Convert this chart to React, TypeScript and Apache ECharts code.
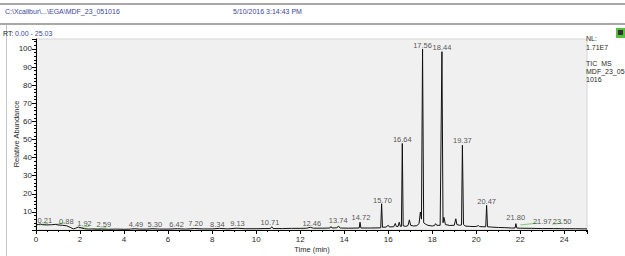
import React, { useEffect, useRef } from "react";
import * as echarts from "echarts";

// Chromatogram trace: [time (min), relative abundance (%)]
const trace: [number, number][] = [
  [0, 2.8], [0.1, 3.0], [0.21, 3.3], [0.3, 2.9], [0.5, 2.8], [0.7, 2.9], [0.88, 3.1], [1.0, 2.8],
  [1.2, 2.6], [1.4, 2.3], [1.55, 1.5], [1.7, 0.6], [1.8, 1.0], [1.92, 1.6], [2.05, 1.2], [2.2, 0.7],
  [2.4, 0.5], [2.59, 0.6], [2.8, 0.4], [3.0, 0.5], [3.3, 0.4], [3.6, 0.5], [4.0, 0.4], [4.3, 0.5],
  [4.49, 0.7], [4.7, 0.5], [5.0, 0.5], [5.3, 0.7], [5.6, 0.5], [6.0, 0.5], [6.42, 0.7], [6.8, 0.5],
  [7.2, 0.8], [7.6, 0.6], [8.0, 0.6], [8.34, 0.9], [8.7, 0.6], [9.13, 1.0], [9.5, 0.7], [10.0, 0.7],
  [10.4, 0.8], [10.65, 0.8], [10.71, 1.8], [10.77, 0.8], [11.2, 0.8], [11.6, 0.9], [12.0, 0.9],
  [12.3, 1.0], [12.46, 1.5], [12.6, 1.0], [13.0, 1.0], [13.35, 1.1], [13.4, 1.9], [13.45, 1.1],
  [13.65, 1.2], [13.74, 2.0], [13.82, 1.1], [14.2, 1.0], [14.68, 1.1], [14.72, 4.3], [14.76, 1.1],
  [15.2, 1.1], [15.66, 1.2], [15.7, 14.5], [15.74, 1.5], [15.9, 1.6], [16.0, 2.6], [16.05, 1.7],
  [16.25, 1.8], [16.32, 3.6], [16.37, 1.9], [16.45, 2.0], [16.5, 4.3], [16.55, 2.0], [16.6, 2.0],
  [16.64, 47.8], [16.68, 2.3], [16.8, 2.0], [16.9, 2.5], [16.96, 5.6], [17.02, 2.6], [17.15, 2.2],
  [17.3, 2.4], [17.4, 3.5], [17.46, 9.9], [17.51, 6.0], [17.56, 100], [17.61, 4.0], [17.7, 3.2],
  [17.8, 2.6], [17.9, 2.4], [18.0, 2.2], [18.1, 2.5], [18.15, 3.5], [18.2, 2.6], [18.36, 2.6],
  [18.44, 98.5], [18.49, 4.0], [18.53, 7.0], [18.6, 3.0], [18.8, 2.5], [19.0, 2.6], [19.07, 6.2],
  [19.12, 3.0], [19.25, 2.6], [19.33, 2.8], [19.37, 46.8], [19.42, 3.0], [19.5, 2.2], [19.7, 2.0],
  [19.9, 1.9], [20.0, 2.0], [20.1, 2.4], [20.15, 1.9], [20.3, 1.8], [20.43, 1.8], [20.47, 13.6],
  [20.51, 1.8], [20.7, 1.6], [21.0, 1.4], [21.3, 1.3], [21.6, 1.1], [21.76, 1.1], [21.8, 3.5],
  [21.84, 1.1], [22.0, 1.0], [22.5, 0.9], [23.0, 0.8], [23.5, 0.8], [24.0, 0.7], [24.5, 0.7],
  [25.03, 0.6],
];

// Peak labels: text, label anchor time, label anchor level
const peakLabels: string[] = [
  "0.21", "0.88", "1.92", "2.59", "4.49", "5.30", "6.42", "7.20", "8.34", "9.13", "10.71", "12.46",
  "13.74", "14.72", "15.70", "16.64", "17.56", "18.44", "19.37", "20.47", "21.80", "21.97", "23.50",
];
const labelTimes: number[] = [
  0.4, 1.38, 2.2, 3.08, 4.54, 5.4, 6.39, 7.25, 8.24, 9.15, 10.63, 12.53,
  13.73, 14.76, 15.74, 16.64, 17.56, 18.44, 19.37, 20.47, 21.79, 23.0, 23.9,
];
const labelLevels: number[] = [
  2.6, 2.2, 1.1, 0.2, 0.2, 0.2, 0.2, 0.7, 0.5, 1.1, 1.3, 0.7,
  2.6, 4.0, 13.3, 47.2, 99.2, 98.2, 46.5, 13.1, 4.0, 2.2, 1.7,
];

// Green baseline marks: [t0, v0, t1, v1]
const greenMarks: [number, number, number, number][] = [
  [0.15, 2.8, 0.55, 3.6],
  [0.85, 3.0, 1.3, 4.0],
  [1.95, 1.0, 2.45, 2.3],
  [2.6, 0.4, 3.2, 1.3],
  [5.25, 0.6, 5.35, 1.0],
  [13.65, 1.4, 13.8, 2.0],
  [22.0, 2.8, 22.8, 3.8],
  [23.45, 3.2, 23.9, 3.8],
];

const xTicks = [0, 2, 4, 6, 8, 10, 12, 14, 16, 18, 20, 22, 24];
const yTicks = [10, 20, 30, 40, 50, 60, 70, 80, 90, 100];

const FONT = 'Arial, "Liberation Sans", sans-serif';
const BLUE = "#3a46a0";
const TXT = "#2a2a2a";

export default function App() {
  const ref = useRef<HTMLDivElement>(null);
  useEffect(() => {
    if (!ref.current) return;
    const chart = echarts.init(ref.current, undefined, { renderer: "svg" });
    const option: any = {
      animation: false,
      backgroundColor: "#ffffff",
      textStyle: { fontFamily: FONT },
      grid: {
        left: 36,
        right: 38,
        top: 39,
        bottom: 26,
        show: true,
        backgroundColor: "#f0f0f0",
        borderColor: "#d6d6d6",
        borderWidth: 1,
      },
      xAxis: {
        type: "value",
        min: 0,
        max: 25.03,
        interval: 2,
        axisLine: { show: true, onZero: false, lineStyle: { color: "#000", width: 1 } },
        axisTick: { show: true, length: 4, lineStyle: { color: "#000" } },
        minorTick: { show: true, splitNumber: 4, length: 2, lineStyle: { color: "#000" } },
        splitLine: { show: false },
        axisLabel: {
          fontSize: 8,
          color: TXT,
          margin: 5,
          fontFamily: FONT,
          showMaxLabel: false,
          formatter: (v: number) => (xTicks.indexOf(v) >= 0 ? String(v) : ""),
        },
      },
      yAxis: {
        type: "value",
        min: 0,
        max: 105.5,
        interval: 10,
        axisLine: { show: true, onZero: false, lineStyle: { color: "#000", width: 1 } },
        axisTick: { show: true, length: 4, lineStyle: { color: "#000" } },
        minorTick: { show: true, splitNumber: 5, length: 2, lineStyle: { color: "#000" } },
        splitLine: { show: false },
        axisLabel: {
          fontSize: 8,
          color: TXT,
          margin: 4,
          fontFamily: FONT,
          formatter: (v: number) => (yTicks.indexOf(v) >= 0 ? String(v) : ""),
        },
      },
      series: [
        ...greenMarks.map((g) => ({
          type: "line",
          data: [
            [g[0], g[1]],
            [g[2], g[3]],
          ],
          symbol: "none",
          silent: true,
          z: 1,
          lineStyle: { color: "#7ccf6e", width: 1 },
        })),
        {
          type: "line",
          data: trace,
          symbol: "none",
          silent: true,
          z: 2,
          lineStyle: { color: "#111", width: 1 },
        },
        {
          type: "scatter",
          data: labelTimes.map((t, i) => [t, labelLevels[i], peakLabels[i]]),
          symbolSize: 0,
          silent: true,
          clip: false,
          z: 3,
          itemStyle: { color: TXT },
          label: {
            show: true,
            position: "top",
            distance: 1,
            fontSize: 7.5,
            color: TXT,
            fontFamily: FONT,
            formatter: (p: any) => p.value[2],
          },
        },
      ],
      graphic: [
        { type: "rect", shape: { x: 0, y: 3, width: 625, height: 2 }, style: { fill: "#a8a8a8" } },
        { type: "rect", shape: { x: 0, y: 23, width: 625, height: 2 }, style: { fill: "#a8a8a8" } },
        { type: "rect", shape: { x: 6, y: 25, width: 1, height: 231 }, style: { fill: "#c4c4c4" } },
        {
          type: "text",
          x: 5,
          y: 11,
          style: { text: "C:\\Xcalibur\\...\\EGA\\MDF_23_051016", fill: BLUE, font: `7px ${FONT}`, verticalAlign: "middle" },
        },
        {
          type: "text",
          x: 233,
          y: 11,
          style: { text: "5/10/2016 3:14:43 PM", fill: BLUE, font: `7px ${FONT}`, verticalAlign: "middle" },
        },
        {
          type: "text",
          x: 3,
          y: 33,
          style: { text: "RT:", fill: "#222", font: `7px ${FONT}`, verticalAlign: "middle" },
        },
        {
          type: "text",
          x: 15,
          y: 33,
          style: { text: "0.00 - 25.03", fill: BLUE, font: `7px ${FONT}`, verticalAlign: "middle" },
        },
        { type: "rect", shape: { x: 616, y: 28, width: 9, height: 10 }, style: { fill: "#55c040" } },
        { type: "rect", shape: { x: 618, y: 30, width: 5, height: 5 }, style: { fill: "#333" } },
        {
          type: "text",
          x: 16,
          y: 134,
          rotation: Math.PI / 2,
          style: { text: "Relative Abundance", fill: TXT, font: `7.5px ${FONT}`, align: "center", verticalAlign: "middle" },
        },
        {
          type: "text",
          x: 312,
          y: 249,
          style: { text: "Time (min)", fill: TXT, font: `7.5px ${FONT}`, align: "center", verticalAlign: "middle" },
        },
        {
          type: "text",
          x: 586,
          y: 43,
          style: { text: "NL:\n1.71E7", fill: TXT, font: `7px ${FONT}`, verticalAlign: "middle", lineHeight: 9 },
        },
        {
          type: "text",
          x: 586,
          y: 59,
          style: { text: "TIC  MS\nMDF_23_05\n1016", fill: TXT, font: `7px ${FONT}`, verticalAlign: "top", lineHeight: 8 },
        },
      ],
    };
    chart.setOption(option);
    return () => chart.dispose();
  }, []);
  return (
    <div
      ref={ref}
      style={{ position: "fixed", left: 0, top: 0, width: 625, height: 256 }}
    />
  );
}
